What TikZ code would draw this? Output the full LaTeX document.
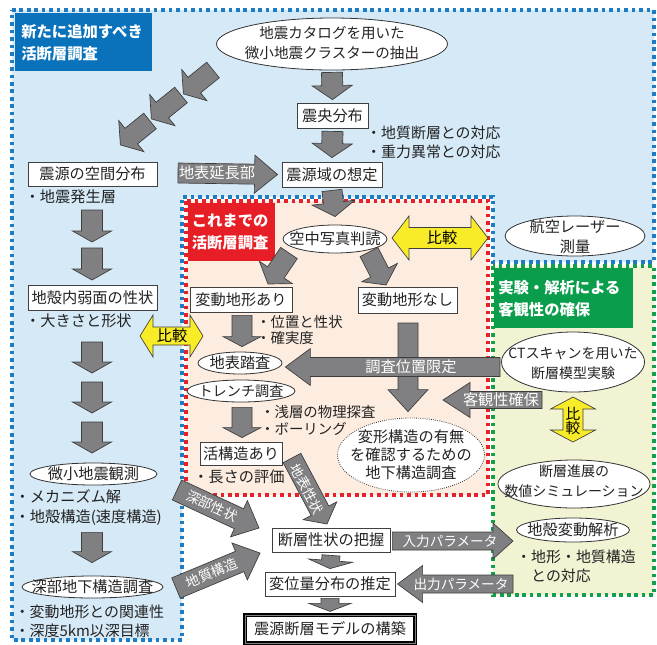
\documentclass[tikz,border=0pt]{standalone}
\usepackage{fontspec}
\setmainfont{Noto Sans CJK JP}
\usetikzlibrary{shapes.geometric,calc}
\definecolor{bluebg}{RGB}{214,233,247}
\definecolor{bdot}{RGB}{30,124,196}
\definecolor{bluelab}{RGB}{10,114,186}
\definecolor{peach}{RGB}{253,237,224}
\definecolor{rdot}{RGB}{232,32,42}
\definecolor{redlab}{RGB}{232,30,38}
\definecolor{greenbg}{RGB}{241,243,211}
\definecolor{gdot}{RGB}{18,160,74}
\definecolor{greenlab}{RGB}{10,158,76}
\definecolor{agray}{RGB}{128,128,130}
\definecolor{aborder}{RGB}{60,60,60}
\definecolor{yel}{RGB}{248,236,40}
\definecolor{txt}{RGB}{35,35,35}
\newcommand\fsA{\fontsize{11.4pt}{15pt}\selectfont}
\newcommand\fsB{\fontsize{10.9pt}{15pt}\selectfont}
\newcommand\fsC{\fontsize{10.2pt}{13pt}\selectfont}
\newcommand\fsG{\fontsize{10.5pt}{15pt}\selectfont}
\newcommand\fsH{\fontsize{11.5pt}{16.5pt}\selectfont\bfseries}
% block arrow: [style] {tail} {tip} {body half px} {head half px} {head length px}
\newcommand\barrow[6][]{%
  \filldraw[garrow,#1] let \p1=#2, \p2=#3,
    \n1={atan2(\y2-\y1,\x2-\x1)},
    \n2={veclen(\x2-\x1,\y2-\y1)-#6*0.75} in
    ($(\p1)+(\n1+90:{#4*0.75pt})$)
    -- ($(\p1)+(\n1:{\n2*1pt})+(\n1+90:{#4*0.75pt})$)
    -- ($(\p1)+(\n1:{\n2*1pt})+(\n1+90:{#5*0.75pt})$)
    -- (\p2)
    -- ($(\p1)+(\n1:{\n2*1pt})+(\n1-90:{#5*0.75pt})$)
    -- ($(\p1)+(\n1:{\n2*1pt})+(\n1-90:{#4*0.75pt})$)
    -- ($(\p1)+(\n1-90:{#4*0.75pt})$) -- cycle;}
% double arrow: [style] {end A} {end B} {body half} {head half} {head length}
\newcommand\darrow[6][]{%
  \filldraw[yarrow,#1] let \p1=#2, \p2=#3,
    \n1={atan2(\y2-\y1,\x2-\x1)},
    \n3={#6*0.75},
    \n4={veclen(\x2-\x1,\y2-\y1)-#6*0.75} in
    (\p1)
    -- ($(\p1)+(\n1:{\n3*1pt})+(\n1+90:{#5*0.75pt})$)
    -- ($(\p1)+(\n1:{\n3*1pt})+(\n1+90:{#4*0.75pt})$)
    -- ($(\p1)+(\n1:{\n4*1pt})+(\n1+90:{#4*0.75pt})$)
    -- ($(\p1)+(\n1:{\n4*1pt})+(\n1+90:{#5*0.75pt})$)
    -- (\p2)
    -- ($(\p1)+(\n1:{\n4*1pt})+(\n1-90:{#5*0.75pt})$)
    -- ($(\p1)+(\n1:{\n4*1pt})+(\n1-90:{#4*0.75pt})$)
    -- ($(\p1)+(\n1:{\n3*1pt})+(\n1-90:{#4*0.75pt})$)
    -- ($(\p1)+(\n1:{\n3*1pt})+(\n1-90:{#5*0.75pt})$) -- cycle;}
\begin{document}
\begin{tikzpicture}[x=0.75pt,y=-0.75pt,font=\fsA,
  wpx/.style={minimum width={#1*0.75pt}},
  hpx/.style={minimum height={#1*0.75pt}},
  nbox/.style={draw=black!75,fill=white,line width=0.6pt,inner sep=0pt,text=txt},
  nell/.style={ellipse,draw=black!80,fill=white,line width=0.6pt,inner sep=0pt},
  ntx/.style={text=txt,inner sep=0pt,align=left},
  nct/.style={text=txt,inner sep=0pt,align=center},
  natx/.style={text=white,inner sep=0pt},
  nlab/.style={anchor=north west,text=white,align=left,inner ysep=0pt,font=\fsH},
  garrow/.style={fill=agray,draw=aborder,line width=0.5pt},
  yarrow/.style={fill=yel,draw=black!75,line width=0.5pt},
  dotb/.style={draw=bdot,line width=2.7pt,dash pattern=on 2.7pt off 2.9pt},
  dotr/.style={draw=rdot,line width=2.7pt,dash pattern=on 2.7pt off 2.9pt},
  dotg/.style={draw=gdot,line width=2.7pt,dash pattern=on 2.7pt off 2.9pt}]
\useasboundingbox (0,0) rectangle (657,644);
\fill[white] (0,0) rectangle (657,644);
% ---------- regions ----------
\fill[bluebg] (12,10) -- (654,10) -- (654,262) -- (493,262) -- (493,197) -- (182,197) -- (182,640) -- (12,640) -- cycle;
\fill[peach] (186,201) rectangle (488,495);
\fill[greenbg] (493,266) rectangle (654,595);
\draw[dotb] (12,10) -- (654,10) -- (654,262) -- (493,262) -- (493,197) -- (182,197) -- (182,640) -- (12,640) -- cycle;
\draw[dotr] (186,201) rectangle (488,495);
\draw[dotg] (493,266) rectangle (654,595);
% ---------- region labels ----------
\node[nlab,fill=bluelab,minimum width=102.75pt,minimum height=43.5pt,text width=93.75pt,inner xsep=4.5pt] (labNew) at (15,13) {新たに追加すべき\\活断層調査};
\node[nlab,fill=redlab,minimum width=65.25pt,minimum height=43.5pt,text width=60pt,inner xsep=2.6pt] (labOld) at (188,203) {これまでの\\活断層調査};
\node[nlab,fill=greenlab,minimum width=104.25pt,minimum height=45pt,text width=98.25pt,inner xsep=3pt] (labExp) at (494,268) {実験・解析による\\客観性の確保};
% ---------- top column ----------
\node[nell,wpx=231,hpx=52] (cat) at (332,44) {};
\node[nct,font=\fsB] (catT) at (332,43) {地震カタログを用いた\\微小地震クラスターの抽出};
\node[nbox,wpx=71,hpx=25] (epic) at (332.5,115.5) {震央分布};
\node[ntx,anchor=west,font=\fontsize{11.2pt}{14.25pt}\selectfont] (b1) at (366,142.5) {・地質断層との対応\\・重力異常との対応};
\node[nbox,wpx=100,hpx=25] (srcarea) at (332,174.5) {震源域の想定};
% ---------- left column ----------
\node[nbox,wpx=129,hpx=24] (spatial) at (92.5,174) {震源の空間分布};
\node[ntx,anchor=west] (b2) at (24.5,197) {・地震発生層};
\node[nbox,wpx=129,hpx=25] (weak) at (92.5,297.5) {地殻内弱面の性状};
\node[ntx,anchor=west] (b3) at (25,321) {・大きさと形状};
\node[nell,wpx=127,hpx=22] (micro) at (93.5,474) {};
\node[nct] (microT) at (micro) {微小地震観測};
\node[ntx,anchor=west] (b4) at (14.5,507.5) {・メカニズム解\\・地殻構造(速度構造)};
\node[nell,wpx=141,hpx=22] (deep) at (92.5,587) {};
\node[nct] (deepT) at (deep) {深部地下構造調査};
\node[ntx,anchor=west,font=\fontsize{11.2pt}{14.25pt}\selectfont] (b5) at (14.5,621) {・変動地形との関連性\\・深度5km以深目標};
% ---------- red box ----------
\node[nell,wpx=104,hpx=28] (aerial) at (335,239) {};
\node[nct] (aerialT) at (aerial) {空中写真判読};
\node[nbox,wpx=102,hpx=25] (ari) at (241,299.5) {変動地形あり};
\node[nbox,wpx=99,hpx=26] (nashi) at (407.5,300) {変動地形なし};
\node[ntx,anchor=west,font=\fontsize{10.8pt}{12pt}\selectfont] (b6) at (256,330) {・位置と性状\\・確実度};
\node[nell,wpx=84,hpx=22] (chihyo) at (240,363) {};
\node[nct] (chihyoT) at (chihyo) {地表踏査};
\node[nell,wpx=108,hpx=22] (trench) at (241,391) {};
\node[nct,font=\fontsize{10.6pt}{13pt}\selectfont] (trenchT) at (trench) {トレンチ調査};
\node[ntx,anchor=west,font=\fontsize{10.8pt}{12.75pt}\selectfont] (b7) at (260,420) {・浅層の物理探査\\・ボーリング};
\node[nbox,wpx=82,hpx=23] (katsu) at (241,453.5) {活構造あり};
\node[ntx,anchor=west] (b8) at (193,477) {・長さの評価};
\node[nell,wpx=147,hpx=74,densely dotted] (henkei) at (411,455) {};
\node[nct,font=\fontsize{11.4pt}{13.5pt}\selectfont] (henkeiT) at (411,455) {変形構造の有無\\を確認するための\\地下構造調査};
% ---------- right column ----------
\node[nell,wpx=140,hpx=40] (laser) at (575,236) {};
\node[nct] (laserT) at (575,237) {航空レーザー\\測量};
\node[nell,wpx=143,hpx=60] (ctx) at (573,362) {};
\node[nct,font=\fsG] (ctxT) at (573,364) {CTスキャンを用いた\\断層模型実験};
\node[nell,wpx=152,hpx=48] (sim) at (574,484) {};
\node[nct,font=\fsG] (simT) at (574,481) {断層進展の\\数値シミュレーション};
\node[nell,wpx=113,hpx=24] (crust) at (573,530) {};
\node[nct] (crustT) at (crust) {地殻変動解析};
\node[ntx,anchor=west,font=\fontsize{11.2pt}{14.25pt}\selectfont] (b9) at (516,566) {・地形・地質構造\\　との対応};
% ---------- bottom ----------
\node[nbox,wpx=118,hpx=24] (haaku) at (331,540) {断層性状の把握};
\node[nbox,wpx=130,hpx=24] (suitei) at (330,584) {変位量分布の推定};
\node[nbox,wpx=170,hpx=28,draw=black,line width=0.9pt,double=gray,double distance=0.7pt] (model) at (330,629) {震源断層モデルの構築};
% ---------- arrow end coordinates ----------
\coordinate (d1a) at (213,70);  \coordinate (d1b) at (183.4,93.9);
\coordinate (d2a) at (181,95);  \coordinate (d2b) at (151.4,118.9);
\coordinate (d3a) at (150,121); \coordinate (d3b) at (120.4,144.9);
\coordinate (l1a) at (92,210); \coordinate (l1b) at (92,242);
\coordinate (l2a) at (92,248); \coordinate (l2b) at (92,280);
\coordinate (l3a) at (92,342); \coordinate (l3b) at (92,373);
\coordinate (l4a) at (92,382); \coordinate (l4b) at (92,413);
\coordinate (l5a) at (92,422); \coordinate (l5b) at (92,453);
\coordinate (enA) at (178,173);
\coordinate (kaA) at (289,253); \coordinate (kaB) at (268,284);
\coordinate (knA) at (369,252); \coordinate (knB) at (386,285);
\coordinate (nsA) at (408,323);
\coordinate (chA) at (500,367);
\coordinate (kkA) at (542,400);
\coordinate (inB) at (513,541);
\coordinate (outA) at (513,584);
\coordinate (dpA) at (177,490); \coordinate (dpB) at (259,528);
\coordinate (gsA) at (176,588); \coordinate (gsB) at (260,553);
\coordinate (ssA) at (292,458); \coordinate (ssB) at (327,524);
\coordinate (cmpA) at (392,238); \coordinate (cmpB) at (488,238);
\coordinate (cmlA) at (140,336); \coordinate (cmlB) at (203,336);
\coordinate (cmvA) at (573,397); \coordinate (cmvB) at (573,442);
% ---------- gray arrows ----------
\barrow{($(cat.south)+(0,2)$)}{($(epic.north)+(0,-3)$)}{10.5}{20}{14}
\barrow{($(epic.south)+(0,3)$)}{($(srcarea.north)+(0,-4)$)}{10.5}{20}{14}
\barrow{($(srcarea.south)+(0,3)$)}{($(aerial.north)+(0,-8)$)}{10}{21.5}{14}
\barrow{(d1a)}{(d1b)}{10}{20}{14}
\barrow{(d2a)}{(d2b)}{10}{20}{14}
\barrow{(d3a)}{(d3b)}{10}{20}{14}
\barrow{(enA)}{($(srcarea.west)+(-4,0)$)}{10}{19}{23}
\barrow{(l1a)}{(l1b)}{10.5}{19.5}{11}
\barrow{(l2a)}{(l2b)}{10.5}{19.5}{11}
\barrow{(l3a)}{(l3b)}{10.5}{19.5}{11}
\barrow{(l4a)}{(l4b)}{10.5}{19.5}{11}
\barrow{(l5a)}{(l5b)}{10.5}{19.5}{11}
\barrow{($(micro.south)+(-1.5,47)$)}{($(deep.north)+(-0.5,-13)$)}{10.5}{19.5}{11}
\barrow{(kaA)}{(kaB)}{10}{20}{14}
\barrow{(knA)}{(knB)}{10}{20}{14}
\barrow{($(ari.south)+(1,3)$)}{($(chihyo.north)+(2,-5)$)}{10}{19}{10}
\barrow{($(trench.south)+(1,5)$)}{($(katsu.north)+(1,-4)$)}{10}{19}{10}
\barrow{(nsA)}{($(henkei.north)+(-3,-6)$)}{10}{20}{22}
\barrow{(chA)}{($(chihyo.east)+(3,4)$)}{9.5}{18.5}{25}
\barrow{(kkA)}{(443,400)}{8.5}{17.5}{27}
\barrow{($(haaku.east)+(2,1)$)}{(inB)}{9}{18}{20}
\barrow{(outA)}{($(suitei.west)+(133,0)$)}{9}{18.5}{25}
\barrow{(dpA)}{(dpB)}{11}{20}{22}
\barrow{(gsA)}{(gsB)}{11}{20}{22}
\barrow{(ssA)}{(ssB)}{10}{19}{15}
\barrow{($(haaku.south)+(0,3)$)}{($(suitei.north)+(0,-3)$)}{9}{22}{8}
\barrow{($(suitei.south)+(0,2)$)}{($(model.north)+(0,-3)$)}{9}{21}{8}
% ---------- yellow double arrows ----------
\darrow{(cmpA)}{(cmpB)}{10.5}{22}{17}
\darrow{(cmlA)}{(cmlB)}{9}{21}{13}
\darrow{(cmvA)}{(cmvB)}{10}{22.5}{12}
% ---------- arrow labels ----------
\node[natx] (tEn) at (217,173) {地表延長部};
\node[natx] (tCh) at (411,367) {調査位置限定};
\node[natx] (tKk) at (501,400) {客観性確保};
\node[natx,font=\fsC] (tIn) at (450,541) {入力パラメータ};
\node[natx,font=\fsC] (tOut) at (461,584) {出力パラメータ};
\node[natx,font=\fsC,rotate=-24.9] (tDp) at (212,506) {深部性状};
\node[natx,font=\fsC,rotate=22.6] (tGs) at (212,573) {地質構造};
\node[natx,font=\fsC,rotate=-62] (tSs) at (307,489) {地表性状};
\node[nct,text=black] (tCmp) at (442,238) {比較};
\node[nct,text=black] (tCml) at (172,336) {比較};
\node[nct,text=black,font=\fontsize{11pt}{11pt}\selectfont] (tCmv) at (573,421) {比\\較};
\end{tikzpicture}
\end{document}
